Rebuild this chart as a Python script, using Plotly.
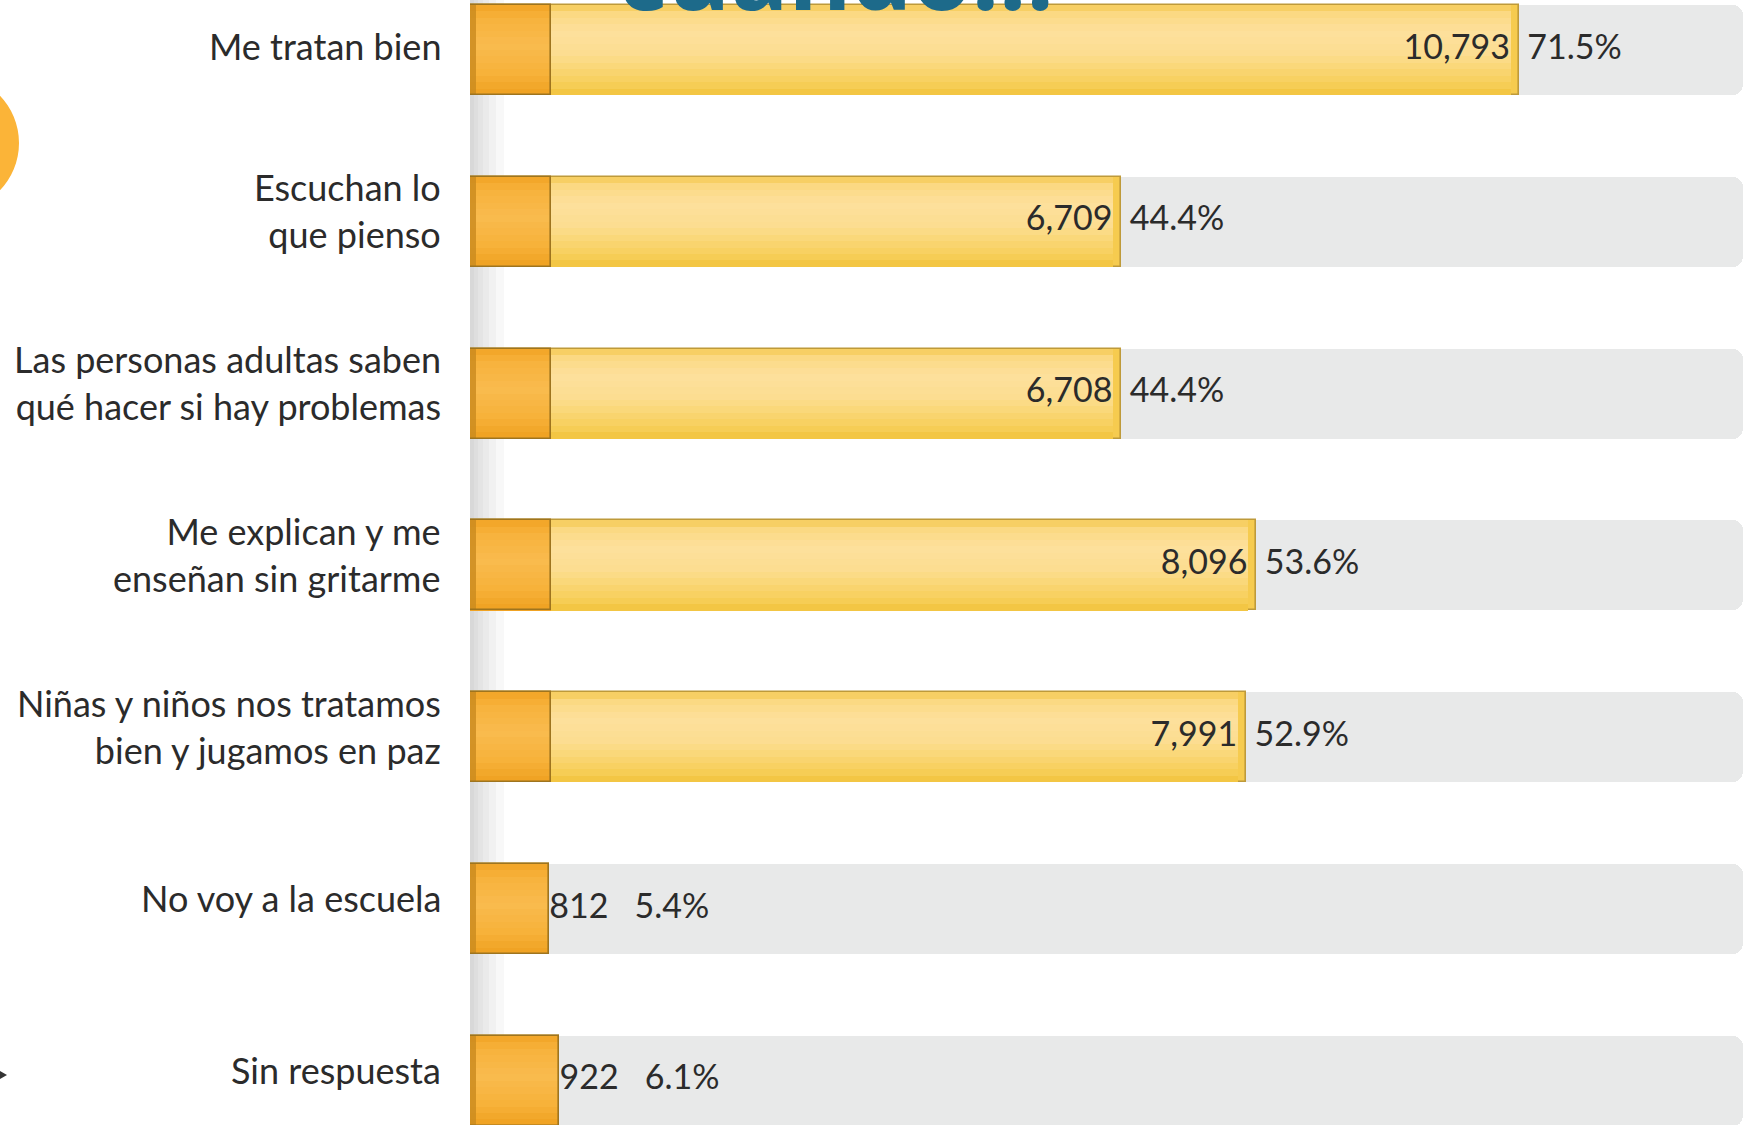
import plotly.graph_objects as go

# ---------------- data ----------------
categories = [
    "Me tratan bien",
    "Escuchan lo<br>que pienso",
    "Las personas adultas saben<br>qué hacer si hay problemas",
    "Me explican y me<br>enseñan sin gritarme",
    "Niñas y niños nos tratamos<br>bien y jugamos en paz",
    "No voy a la escuela",
    "Sin respuesta",
]
counts = [10793, 6709, 6708, 8096, 7991, 812, 922]
percents = [71.5, 44.4, 44.4, 53.6, 52.9, 5.4, 6.1]
title_text = "cuando..."

# ---------------- style ----------------
W, H = 1748, 1125
ML, MR = 470, 5
AXIS_MAX = 86.8          # full extent of the grey track
ORANGE_W = 5.5           # width of the orange start segment (in %)
INSIDE_MIN = 10          # below this the count is written outside and the bar is all orange
BAR_W = 0.524
FONT = "Lato"
TXT = "#2b2b2b"
NB = "\u00a0"

# vertical gradient stops (fraction of bar height from top, colour)
YELLOW_STOPS = [(0.0, "#F4C84E"), (0.08, "#FBD880"), (0.3, "#FDE09C"), (0.55, "#FCDD90"),
                (0.72, "#FAD673"), (0.88, "#F7CE58"), (1.0, "#F2C23C")]
ORANGE_STOPS = [(0.0, "#F2A424"), (0.15, "#F7B23C"), (0.45, "#F9BB4E"), (0.75, "#F7B23A"),
                (1.0, "#EFA020")]
N_BANDS = 14

pos = list(range(len(categories)))
orange_x = [p if p < INSIDE_MIN else ORANGE_W for p in percents]


def hex2rgb(h):
    h = h.lstrip("#")
    return [int(h[i:i + 2], 16) for i in (0, 2, 4)]


def grad_color(stops, t):
    for (t0, c0), (t1, c1) in zip(stops[:-1], stops[1:]):
        if t0 <= t <= t1:
            f = (t - t0) / (t1 - t0) if t1 > t0 else 0
            a, b = hex2rgb(c0), hex2rgb(c1)
            return "rgb(%d,%d,%d)" % tuple(round(a[k] + (b[k] - a[k]) * f) for k in range(3))
    return stops[-1][1]


fig = go.Figure()


def gradient(xs, stops, radius, base=None, inset=0.0):
    h = BAR_W / N_BANDS
    for k in range(N_BANDS):
        t = (k + 0.5) / N_BANDS
        fig.add_trace(go.Bar(
            y=pos, x=[x - inset for x in xs], orientation="h", width=h * 1.02,
            offset=-BAR_W / 2 + k * h, base=base,
            marker=dict(color=grad_color(stops, t), line=dict(width=0), cornerradius=radius),
            hoverinfo="skip", showlegend=False))


# grey track
fig.add_trace(go.Bar(
    y=pos, x=[AXIS_MAX] * len(pos), orientation="h", width=BAR_W,
    marker=dict(color="#E8E9E9", line=dict(width=0), cornerradius=10),
    hoverinfo="skip", showlegend=False))

# main yellow bar (rounded end, darker rim), then the soft gradient inside
fig.add_trace(go.Bar(
    y=pos, x=percents, orientation="h", width=BAR_W,
    marker=dict(color="#F6CB4F", line=dict(color="#BE9A3A", width=1.6), cornerradius=12),
    hoverinfo="skip", showlegend=False))
gradient(percents, YELLOW_STOPS, 0, inset=0.55)

# orange start segment
fig.add_trace(go.Bar(
    y=pos, x=orange_x, orientation="h", width=BAR_W,
    marker=dict(color="#F4AA2C", line=dict(width=0)),
    hoverinfo="skip", showlegend=False))
gradient(orange_x, ORANGE_STOPS, 0)
fig.add_trace(go.Bar(
    y=pos, x=[o * 0.07 for o in orange_x], orientation="h", width=BAR_W,
    marker=dict(color="#C98A1E", opacity=0.8, line=dict(width=0)),
    hoverinfo="skip", showlegend=False))
fig.add_trace(go.Bar(
    y=pos, x=orange_x, orientation="h", width=BAR_W,
    marker=dict(color="rgba(0,0,0,0)", line=dict(color="#9E741E", width=1.6)),
    hoverinfo="skip", showlegend=False))

# labels
inside_text = [f"{c:,}{NB}" if p > INSIDE_MIN else "" for c, p in zip(counts, percents)]
outside_text = [f"{NB}{p:.1f}%" if p > INSIDE_MIN else f"{c:,}{NB}{NB} {p:.1f}%"
                for c, p in zip(counts, percents)]
fig.add_trace(go.Scatter(
    y=pos, x=percents, mode="text", text=inside_text, textposition="middle left",
    textfont=dict(family=FONT, size=34, color=TXT), hoverinfo="skip", showlegend=False))
fig.add_trace(go.Scatter(
    y=pos, x=percents, mode="text", text=outside_text, textposition="middle right",
    textfont=dict(family=FONT, size=34, color=TXT), hoverinfo="skip", showlegend=False))

# category labels (slightly above bar centres, as in the original)
label_yshift = [4, 11, 11, 11, 11, 11, 11]
annotations = [dict(text=cat, xref="paper", yref="y", x=0, y=i, xanchor="right", yanchor="middle",
                    xshift=-27, yshift=label_yshift[i], align="right", showarrow=False,
                    font=dict(family=FONT, size=36, color=TXT))
               for i, cat in enumerate(categories)]
annotations.append(dict(text=f"<b>{title_text}</b>", xref="paper", yref="paper",
                        x=(836 - ML) / (W - ML - MR), y=1 - 40 / H, xanchor="center", yanchor="bottom",
                        showarrow=False, font=dict(family="Open Sans", size=96, color="#1D6A8A")))

# decorative shapes
shapes = []
for wpx in [4, 8, 13, 19, 26, 34]:
    shapes.append(dict(type="rect", xref="paper", yref="paper", xsizemode="pixel",
                       xanchor=0, x0=0, x1=wpx, y0=0, y1=1,
                       fillcolor="#8a8a8a", opacity=0.06, line=dict(width=0), layer="below"))
fig_left = -ML / (W - ML - MR)
shapes.append(dict(type="circle", xref="paper", yref="paper", xsizemode="pixel", ysizemode="pixel",
                   xanchor=fig_left, yanchor=1 - 143 / H, x0=-116, x1=19, y0=-68, y1=68,
                   fillcolor="#FBB438", line=dict(width=0)))
shapes.append(dict(type="path", xref="paper", yref="paper", xsizemode="pixel", ysizemode="pixel",
                   xanchor=fig_left, yanchor=1 - 1075 / H, path="M 0,-4 L 7,0 L 0,4 Z",
                   fillcolor="#333", line=dict(width=0)))

fig.update_layout(
    width=W, height=H, barmode="overlay", bargap=0,
    margin=dict(l=ML, r=MR, t=0, b=0),
    paper_bgcolor="white", plot_bgcolor="white",
    xaxis=dict(range=[0, AXIS_MAX], visible=False, fixedrange=True),
    yaxis=dict(range=[6.257, -0.291], showticklabels=False, ticks="",
               showgrid=False, zeroline=False, showline=False, fixedrange=True),
    shapes=shapes,
    annotations=annotations,
)

fig.write_html("out.html", config={"displayModeBar": False},
               post_script="document.body.style.margin='0';document.body.style.overflow='hidden';")
